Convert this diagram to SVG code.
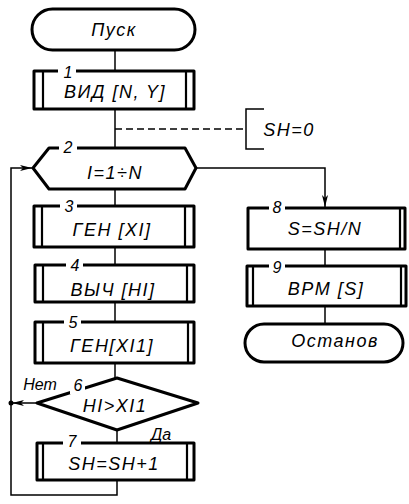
<svg xmlns="http://www.w3.org/2000/svg" width="409" height="504" viewBox="0 0 409 504">
<defs>
<style>
.o{fill:#fff;stroke:#000;stroke-width:3;stroke-linejoin:round}
.in{stroke:#000;stroke-width:2.2;fill:none}
.c{stroke:#000;stroke-width:1.5;fill:none}
.gap{fill:#fff;stroke:none}
.t{font-family:"Liberation Sans","DejaVu Sans",sans-serif;font-style:italic;font-size:18px;fill:#000;text-anchor:middle;letter-spacing:1.5px}
.n{font-family:"Liberation Sans","DejaVu Sans",sans-serif;font-style:italic;font-size:16px;fill:#000;text-anchor:middle}
</style>
<marker id="ah" viewBox="0 0 12 6" refX="12" refY="3" markerWidth="12" markerHeight="6" markerUnits="userSpaceOnUse" orient="auto">
<path d="M0,0 L12,3 L0,6 L3,3 Z" fill="#000"/>
</marker>
</defs>
<g id="connectors">
<path class="c" d="M115,50 V71"/>
<path class="c" d="M115,109 V148"/>
<path class="c" d="M115,129 H246" stroke-dasharray="7,4"/>
<path class="c" d="M264,109 H246 V149 H264"/>
<path class="c" d="M196,168 H325 V207" marker-end="url(#ah)"/>
<path class="c" d="M115,189 V206"/>
<path class="c" d="M115,247 V265"/>
<path class="c" d="M115,302 V322"/>
<path class="c" d="M115,363 V378"/>
<path class="c" d="M117,430 V443"/>
<path class="c" d="M117,480 V495 H11 V168 H32" marker-end="url(#ah)"/>
<path class="c" d="M37,403 H12" marker-end="url(#ah)"/>
<circle cx="11" cy="403" r="2.5" fill="#000"/>
<path class="c" d="M325,249 V266"/>
<path class="c" d="M325,306 V324"/>
</g>
<g id="start">
<rect class="o" x="32" y="9" width="163" height="41" rx="20.5"/>
<text class="t" x="114" y="36">Пуск</text>
</g>
<g id="b1">
<rect class="o" x="34" y="71" width="160" height="38"/>
<path class="in" d="M43,71 V109 M186,71 V109"/>
<rect class="gap" x="58" y="66" width="18" height="9"/>
<text class="n" x="68" y="78">1</text>
<text class="t" x="115" y="98">ВИД [N, Y]</text>
</g>
<g id="note">
<text class="t" x="289" y="136">SH=0</text>
</g>
<g id="b2">
<path class="o" d="M33,168 L49,148 H185 L196,168 L185,189 H49 Z"/>
<rect class="gap" x="59" y="143" width="18" height="9"/>
<text class="n" x="68" y="153">2</text>
<text class="t" x="115" y="179">I=1÷N</text>
</g>
<g id="b3">
<rect class="o" x="34" y="206" width="160" height="41"/>
<path class="in" d="M42,206 V247 M185,206 V247"/>
<rect class="gap" x="60" y="201" width="17" height="9"/>
<text class="n" x="69" y="212">3</text>
<text class="t" x="112" y="236">ГЕН [XI]</text>
</g>
<g id="b4">
<rect class="o" x="35" y="265" width="159" height="37"/>
<path class="in" d="M43,265 V302 M187,265 V302"/>
<rect class="gap" x="66" y="260" width="17" height="9"/>
<text class="n" x="75" y="271">4</text>
<text class="t" x="113" y="296">ВЫЧ [HI]</text>
</g>
<g id="b5">
<rect class="o" x="35" y="322" width="159" height="41"/>
<path class="in" d="M43,322 V363 M188,322 V363"/>
<rect class="gap" x="64" y="317" width="17" height="9"/>
<text class="n" x="73" y="328">5</text>
<text class="t" x="112" y="352">ГЕН[XI1]</text>
</g>
<g id="b6">
<path class="o" d="M37,403 L117,378 L198,403 L117,430 Z"/>
<rect class="gap" x="70" y="381" width="15" height="13"/>
<text class="n" x="78" y="391">6</text>
<text class="t" x="115" y="412">HI&gt;XI1</text>
<text class="n" x="40" y="390">Нет</text>
<text class="n" x="161" y="440">Да</text>
</g>
<g id="b7">
<rect class="o" x="37" y="443" width="157" height="37"/>
<path class="in" d="M43,443 V480 M187,443 V480"/>
<rect class="gap" x="63" y="438" width="18" height="9"/>
<text class="n" x="72" y="447">7</text>
<text class="t" x="114" y="470">SH=SH+1</text>
</g>
<g id="b8">
<rect class="o" x="248" y="208" width="157" height="41"/>
<path class="in" d="M400,208 V249"/>
<rect class="gap" x="269" y="203" width="16" height="9"/>
<text class="n" x="277" y="213">8</text>
<text class="t" x="325" y="235">S=SH/N</text>
</g>
<g id="b9">
<rect class="o" x="247" y="266" width="159" height="40"/>
<path class="in" d="M253,266 V306 M401,266 V306"/>
<rect class="gap" x="269" y="261" width="16" height="9"/>
<text class="n" x="277" y="273">9</text>
<text class="t" x="326" y="295">ВРМ [S]</text>
</g>
<g id="stop">
<rect class="o" x="245" y="324" width="158" height="38" rx="19"/>
<text class="t" x="335" y="347">Останов</text>
</g>
</svg>
